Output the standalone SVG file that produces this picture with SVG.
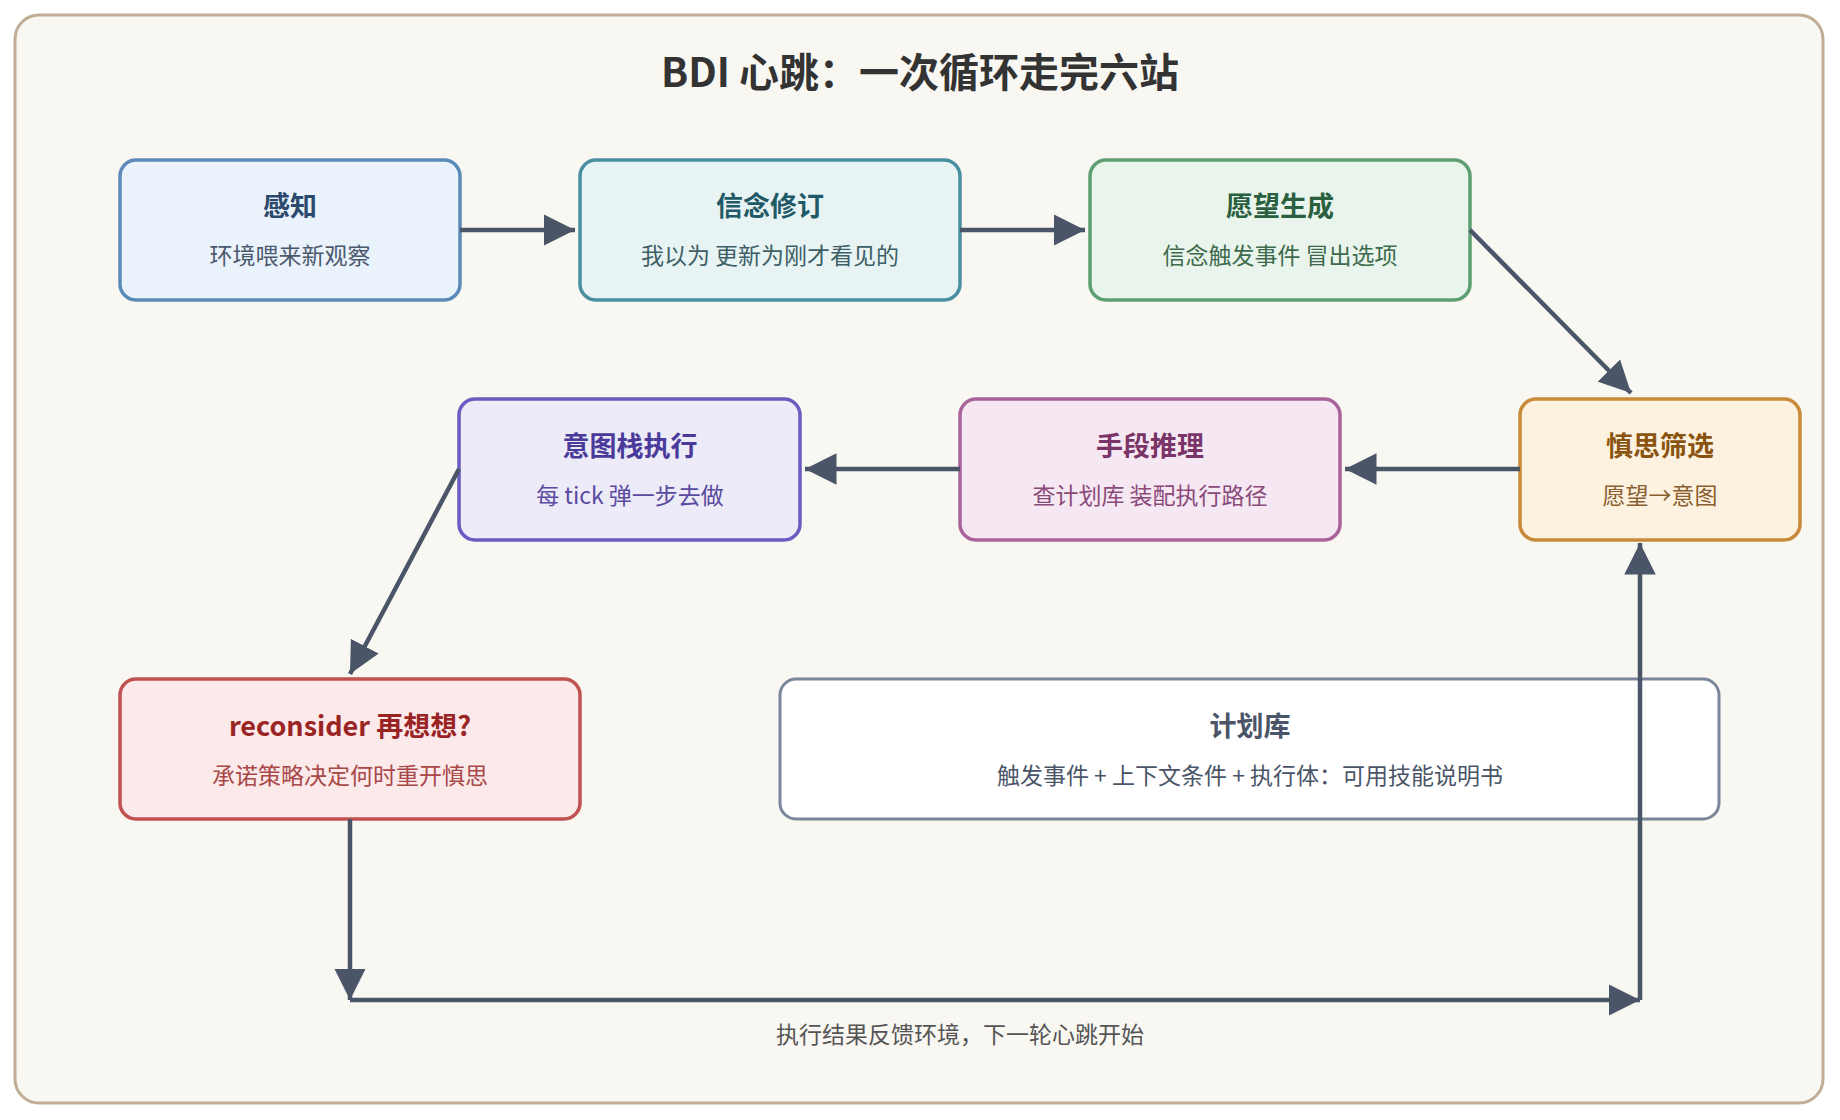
<svg xmlns="http://www.w3.org/2000/svg" width="1840" height="1120" viewBox="0 0 1840 1120">
<style>
text{font-family:"Noto Sans CJK SC","Noto Sans",sans-serif;text-anchor:middle}
.t{font-size:27px;font-weight:700}
.s{font-size:23px}
.c{fill:none;stroke:#4a5568;stroke-width:4.5}
</style>
<defs>
<marker id="a" viewBox="0 0 10 10" refX="10" refY="5" markerWidth="7" markerHeight="7" markerUnits="strokeWidth" orient="auto"><path d="M0,0 L10,5 L0,10 z" fill="#4a5568"/></marker>
</defs>
<rect x="15" y="15" width="1808" height="1088" rx="24" fill="#f9f7f2" stroke="#bfae94" stroke-width="3"/>
<text x="920" y="87" style="font-size:40px;font-weight:700" fill="#333">BDI 心跳：一次循环走完六站</text>
<g id="n1"><rect x="120" y="160" width="340" height="140" rx="16" fill="#eaf2fb" stroke="#5b8ab8" stroke-width="3.5"/><text x="290" y="216" class="t" fill="#2c4a6e">感知</text><text x="290" y="264" class="s" fill="#4a5a6e">环境喂来新观察</text></g>
<g id="n2"><rect x="580" y="160" width="380" height="140" rx="16" fill="#e8f4f4" stroke="#4a8fa0" stroke-width="3.5"/><text x="770" y="216" class="t" fill="#1f5a66">信念修订</text><text x="770" y="264" class="s" fill="#3d5f66">我以为 更新为刚才看见的</text></g>
<g id="n3"><rect x="1090" y="160" width="380" height="140" rx="16" fill="#e9f5ec" stroke="#5f9e72" stroke-width="3.5"/><text x="1280" y="216" class="t" fill="#2a6040">愿望生成</text><text x="1280" y="264" class="s" fill="#3d6a4c">信念触发事件 冒出选项</text></g>
<g id="n4"><rect x="1520" y="399" width="280" height="141" rx="16" fill="#fdf2e0" stroke="#c98a3a" stroke-width="3.5"/><text x="1660" y="456" class="t" fill="#8a5410">慎思筛选</text><text x="1660" y="504" class="s" fill="#8a6030">愿望→意图</text></g>
<g id="n5"><rect x="960" y="399" width="380" height="141" rx="16" fill="#f6e8f2" stroke="#a8649a" stroke-width="3.5"/><text x="1150" y="456" class="t" fill="#7a3468">手段推理</text><text x="1150" y="504" class="s" fill="#8a4a7a">查计划库 装配执行路径</text></g>
<g id="n6"><rect x="459" y="399" width="341" height="141" rx="16" fill="#ecebf7" stroke="#6a5cc0" stroke-width="3.5"/><text x="630" y="456" class="t" fill="#4a3a9a">意图栈执行</text><text x="630" y="504" class="s" fill="#5a4aa0">每 tick 弹一步去做</text></g>
<g id="n7"><rect x="120" y="679" width="460" height="140" rx="16" fill="#fce9e9" stroke="#c05252" stroke-width="3.5"/><text x="350" y="736" class="t" fill="#9a2424">reconsider 再想想?</text><text x="350" y="784" class="s" fill="#a84848">承诺策略决定何时重开慎思</text></g>
<g id="n8"><rect x="780" y="679" width="939" height="140" rx="16" fill="#ffffff" stroke="#7a8699" stroke-width="3"/><text x="1250" y="736" class="t" fill="#4a5568">计划库</text><text x="1250" y="784" class="s" fill="#4a5568">触发事件 + 上下文条件 + 执行体：可用技能说明书</text></g>
<g id="connectors">
<line class="c" x1="460" y1="230" x2="575" y2="230" marker-end="url(#a)"/>
<line class="c" x1="960" y1="230" x2="1085" y2="230" marker-end="url(#a)"/>
<line class="c" x1="1470" y1="230" x2="1631" y2="393" marker-end="url(#a)"/>
<line class="c" x1="1520" y1="469" x2="1345" y2="469" marker-end="url(#a)"/>
<line class="c" x1="960" y1="469" x2="805" y2="469" marker-end="url(#a)"/>
<line class="c" x1="459" y1="469" x2="350" y2="674" marker-end="url(#a)"/>
<line class="c" x1="350" y1="819" x2="350" y2="1000" marker-end="url(#a)"/>
<line class="c" x1="350" y1="1000" x2="1640" y2="1000" marker-end="url(#a)"/>
<line class="c" x1="1640" y1="1000" x2="1640" y2="543" marker-end="url(#a)"/>
<text x="960" y="1043" class="s" fill="#555">执行结果反馈环境，下一轮心跳开始</text>
</g>
</svg>
